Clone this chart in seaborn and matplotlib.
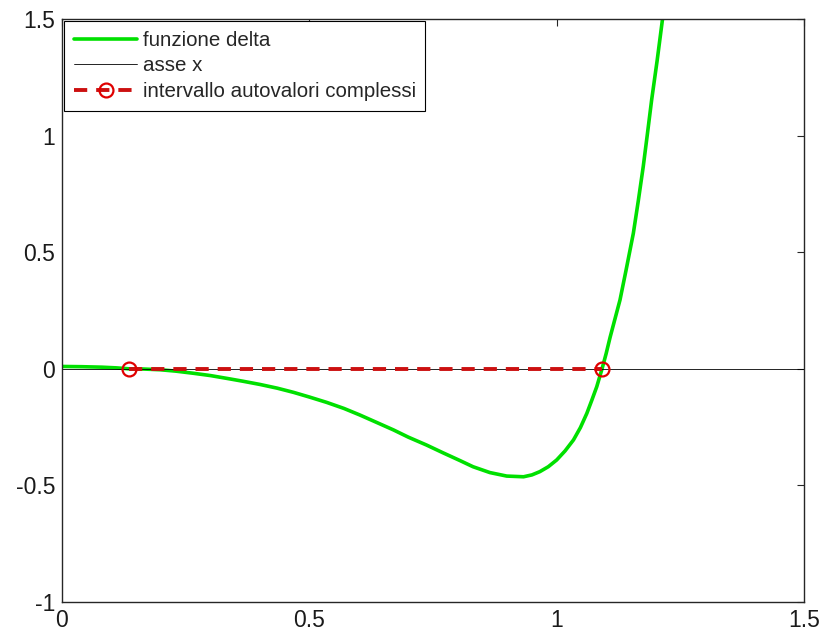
import seaborn as sns
import matplotlib.pyplot as plt
import pandas as pd
import numpy as np

# valori
x_delta = [0.0, 0.04, 0.08, 0.11, 0.135, 0.165, 0.198, 0.23, 0.265, 0.30, 0.333, 0.365,
           0.40, 0.435, 0.468, 0.50, 0.535, 0.57, 0.602, 0.635, 0.67, 0.70, 0.737, 0.77,
           0.805, 0.831, 0.865, 0.899, 0.933, 0.95, 0.966, 0.983, 1.00, 1.017, 1.034, 1.048,
           1.061, 1.071, 1.081, 1.092, 1.10, 1.108, 1.118, 1.128, 1.14, 1.155, 1.165, 1.175,
           1.183, 1.192, 1.203, 1.214, 1.225]
y_delta = [0.01, 0.009, 0.007, 0.004, 0.0, -0.001, -0.004, -0.010, -0.019, -0.029, -0.041, -0.053,
           -0.067, -0.083, -0.101, -0.121, -0.144, -0.170, -0.198, -0.229, -0.262, -0.293, -0.327, -0.36,
           -0.394, -0.420, -0.445, -0.460, -0.463, -0.455, -0.441, -0.420, -0.391, -0.352, -0.305, -0.252,
           -0.191, -0.135, -0.077, 0.002, 0.065, 0.135, 0.215, 0.295, 0.42, 0.581, 0.72, 0.867,
           1.0, 1.153, 1.32, 1.50, 1.70]
x_asse = [0.0, 1.5]
y_asse = [0.0, 0.0]
x_int = [0.135, 1.092]
y_int = [0.0, 0.0]

sns.set_theme(style="white")
plt.rcParams['font.family'] = ['Liberation Sans', 'DejaVu Sans']

df_delta = pd.DataFrame({"x": x_delta, "y": y_delta})
df_asse = pd.DataFrame({"x": x_asse, "y": y_asse})
df_int = pd.DataFrame({"x": x_int, "y": y_int})

fig = plt.figure(figsize=(8.23, 6.41), dpi=100)
ax = fig.add_axes([62/823, 39/641, 742/823, 583/641])

sns.lineplot(data=df_delta, x="x", y="y", sort=False, color="#00E000", lw=2.6,
             label="funzione delta", ax=ax)
sns.lineplot(data=df_asse, x="x", y="y", sort=False, color="black", lw=0.6,
             label="asse x", ax=ax)
sns.lineplot(data=df_int, x="x", y="y", sort=False, color="#CC1010", lw=2.8,
             dashes=False, linestyle=(0, (3.4, 2.3)), marker="o", markersize=10,
             markerfacecolor="none", markeredgecolor="#E00000", markeredgewidth=1.6,
             label="intervallo autovalori complessi", ax=ax)

ax.set_xlim(0, 1.5)
ax.set_ylim(-1, 1.5)
ax.set_xticks([0, 0.5, 1, 1.5])
ax.set_xticklabels(["0", "0.5", "1", "1.5"])
ax.set_yticks([-1, -0.5, 0, 0.5, 1, 1.5])
ax.set_yticklabels(["-1", "-0.5", "0", "0.5", "1", "1.5"])
ax.set_xlabel("")
ax.set_ylabel("")
ax.tick_params(direction="in", length=5, width=0.8, color="#262626",
               labelsize=16.5, labelcolor="#1a1a1a", top=True, right=True, pad=5)
for s in ax.spines.values():
    s.set_color("#262626")
    s.set_linewidth(1.0)

leg = ax.legend(loc="upper left", bbox_to_anchor=(0, 1), borderaxespad=0.1,
                fontsize=14.8, frameon=True, fancybox=False, edgecolor="black",
                framealpha=1, handlelength=3.1, handletextpad=0.25,
                labelspacing=0.32, borderpad=0.47)
leg.get_frame().set_linewidth(0.8)

plt.savefig("out.png", dpi=100)
